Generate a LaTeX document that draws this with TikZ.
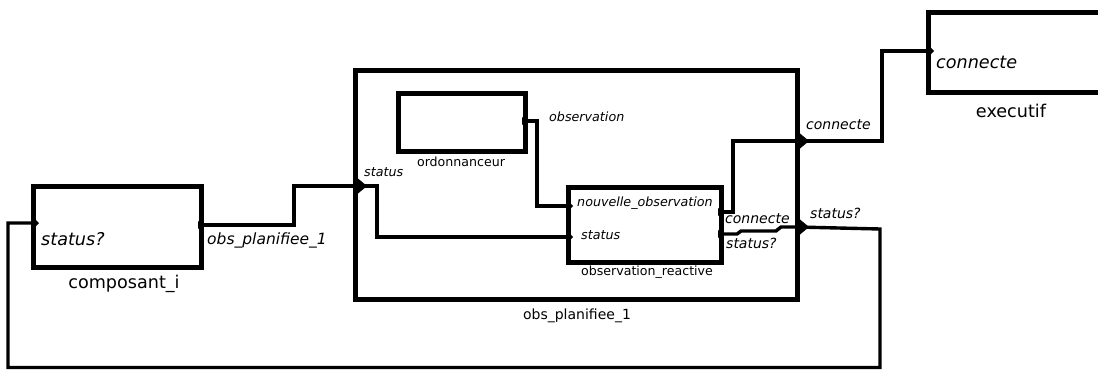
\documentclass[tikz,border=0pt]{standalone}
\usepackage{fontspec}
\setmainfont{DejaVu Sans}
\begin{document}
\begin{tikzpicture}[x=1pt,y=-1pt,
  box/.style={draw, line width=5pt, anchor=north west, inner sep=0pt, outer sep=0pt},
  wire/.style={line width=3.4pt, line join=miter},
  big/.style={inner sep=0pt, font=\fontsize{17.6}{20}\selectfont},
  bigit/.style={inner sep=0pt, font=\fontsize{17.6}{20}\selectfont\itshape},
  mid/.style={inner sep=0pt, font=\fontsize{14}{16}\selectfont\itshape},
  midup/.style={inner sep=0pt, font=\fontsize{14}{16}\selectfont},
  small/.style={inner sep=0pt, font=\fontsize{12.7}{15}\selectfont\itshape},
  smallup/.style={inner sep=0pt, font=\fontsize{12.6}{15}\selectfont},
  porttri/.style={fill=black}
]
\useasboundingbox (0,0) rectangle (1098,370);

% boxes
\node[box, minimum width=168pt, minimum height=81pt] (comp) at (33,186) {};
\node[box, minimum width=442pt, minimum height=229pt] (outer) at (355,70) {};
\node[box, minimum width=127pt, minimum height=58pt] (ordo) at (398,93) {};
\node[box, minimum width=153pt, minimum height=75pt] (obsr) at (568,187) {};
\node[box, minimum width=176pt, minimum height=80pt] (exec) at (928,12) {};

% port coordinates
\coordinate (compIn) at (33,223);
\coordinate (compOut) at (201,225);
\coordinate (outerIn) at (355,186);
\coordinate (ordoOut) at (525,121);
\coordinate (obsrInN) at (568,206);
\coordinate (obsrInS) at (568,237);
\coordinate (obsrOutC) at (721,212);
\coordinate (obsrOutS) at (721,234);
\coordinate (outerOutC) at (797,141);
\coordinate (outerOutS) at (797,227);
\coordinate (execIn) at (928,51);

% wires
\draw[wire] (compOut) -- (294,225) -- (294,186) -- (outerIn);
\draw[wire] (outerIn) -- (377,186) -- (377,237) -- (obsrInS);
\draw[wire] (ordoOut) -- (537,121) -- (537,206) -- (obsrInN);
\draw[wire] (obsrOutC) -- (733,212) -- (733,141) -- (outerOutC);
\draw[wire] (outerOutC) -- (882,141) -- (882,51) -- (execIn);
\draw[wire] (obsrOutS) -- (737,234) -- (741,231) -- (776,231) -- (781,227) -- (outerOutS);
\draw[wire] (outerOutS) -- (880,229) -- (880,367.5) -- (8,367.5) -- (8,223) -- (compIn);

% port triangles
\fill[porttri] (outerIn) ++(0,-10) -- ++(12,10) -- ++(-12,10) -- cycle;
\fill[porttri] (outerOutC) ++(0,-10) -- ++(12,10) -- ++(-12,10) -- cycle;
\fill[porttri] (outerOutS) ++(0,-10) -- ++(12,10) -- ++(-12,10) -- cycle;
\fill[porttri] (compIn) ++(0,-6) -- ++(6,6) -- ++(-6,6) -- cycle;
\fill[porttri] (execIn) ++(0,-6) -- ++(6,6) -- ++(-6,6) -- cycle;
\fill[porttri] (obsrInN) ++(0,-5) -- ++(5,5) -- ++(-5,5) -- cycle;
\fill[porttri] (obsrInS) ++(0,-5) -- ++(5,5) -- ++(-5,5) -- cycle;
\fill[porttri] (compOut) ++(-3,-4) -- ++(5,4) -- ++(-5,4) -- cycle;
\fill[porttri] (ordoOut) ++(-3,-4) -- ++(5,4) -- ++(-5,4) -- cycle;
\fill[porttri] (obsrOutC) ++(-3,-4) -- ++(5,4) -- ++(-5,4) -- cycle;
\fill[porttri] (obsrOutS) ++(-3,-4) -- ++(5,4) -- ++(-5,4) -- cycle;

% labels
\node[bigit, anchor=west] (tCompIn) at (41,239) {status?};
\node[mid, anchor=west, font=\fontsize{15.5}{18}\selectfont\itshape] (tCompOut) at (207,240) {obs\_planifiee\_1};
\node[big] (tComp) at (124,284) {composant\_i};
\node[small, anchor=west] (tOuterIn) at (364,172) {status};
\node[smallup] (tOrdo) at (461,162) {ordonnanceur};
\node[small, anchor=west] (tOrdoOut) at (549,117) {observation};
\node[small, anchor=west] (tObsrN) at (577,203) {nouvelle\_observation};
\node[small, anchor=west] (tObsrS) at (581,235) {status};
\node[smallup] (tObsr) at (647,272) {observation\_reactive};
\node[mid, anchor=west] (tObsrC) at (725,219) {connecte};
\node[mid, anchor=west] (tObsrSt) at (726,243) {status?};
\node[mid, anchor=west] (tOuterC) at (806,125) {connecte};
\node[mid, anchor=west] (tOuterS) at (810,213) {status?};
\node[midup] (tOuter) at (577,316) {obs\_planifiee\_1};
\node[bigit, anchor=west] (tExecIn) at (936,62) {connecte};
\node[big] (tExec) at (1011,111) {executif};
\end{tikzpicture}
\end{document}
